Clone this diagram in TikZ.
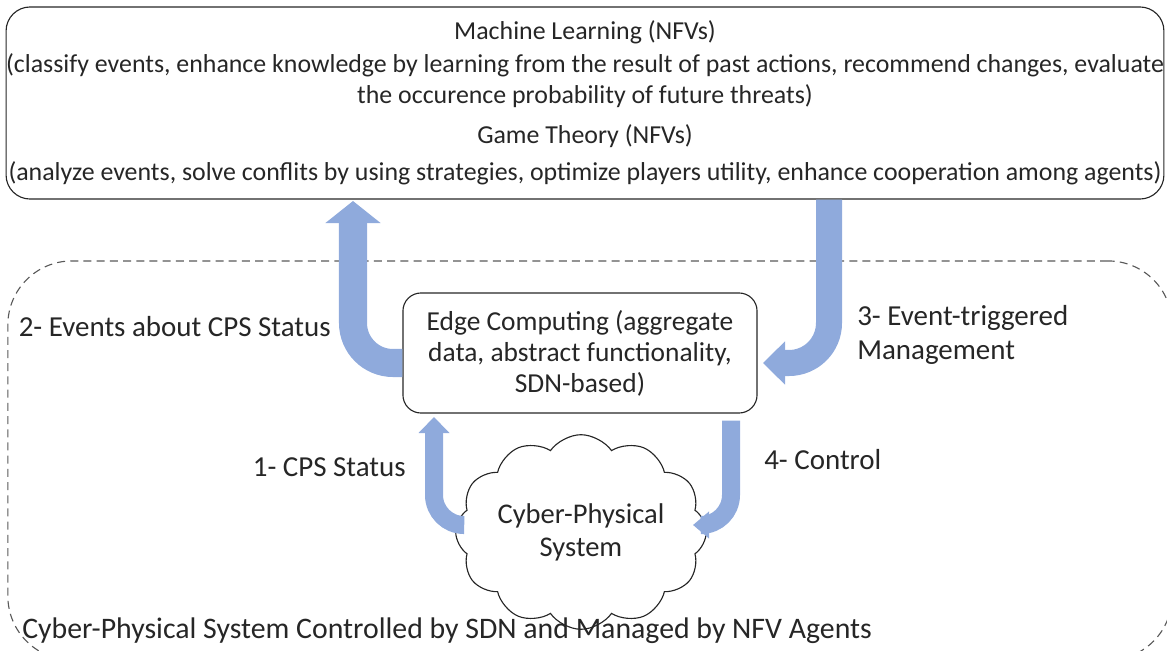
\documentclass[tikz,border=0pt]{standalone}
\usepackage{fontspec}
\setmainfont{Carlito}
\usetikzlibrary{shapes.symbols,arrows.meta,positioning}
\definecolor{flowblue}{HTML}{8FAADC}
\definecolor{inkgray}{HTML}{262626}
\definecolor{dashgray}{HTML}{595959}

\begin{document}
\begin{tikzpicture}[
    x=0.025cm, y=-0.025cm,
    font=\fontsize{18.4}{22}\selectfont, text=inkgray,
    mainbox/.style={rectangle, draw=inkgray, thick, rounded corners=0.6cm, align=center, inner sep=0pt},
    edgebox/.style={rectangle, draw=inkgray, thick, rounded corners=0.45cm, align=center, inner sep=0pt, font=\fontsize{19.5}{22}\selectfont},
    areabox/.style={rectangle, draw=dashgray, thick, dash pattern=on 0.2cm off 0.13cm, rounded corners=1.6cm},
    cps/.style={cloud, cloud puffs=12, cloud puff arc=110, aspect=1.4, draw=inkgray, thick, align=center, inner sep=0pt, font=\fontsize{20.3}{23.5}\selectfont},
    lbl/.style={inner sep=0pt, align=left, font=\fontsize{20.6}{24}\selectfont},
    bigflow/.style={draw=flowblue, line width=0.7cm, rounded corners=1cm},
    smallflow/.style={draw=flowblue, line width=0.45cm, rounded corners=0.75cm},
]
    \useasboundingbox (0,0) rectangle (1167,651);

    % Dashed area round the system
    \node[areabox, minimum width=29.1cm, minimum height=9.975cm] (area) at (590,460.5) {};

    % Upper box with the NFVs
    \node[mainbox, minimum width=28.9cm, minimum height=4.8cm] (nfv) at (585,103) {%
        Machine Learning (NFVs)\\[1pt]
        (classify events, enhance knowledge by learning from the result of past actions, recommend changes, evaluate\\
        the occurence probability of future threats)\\[7pt]
        Game Theory (NFVs)\\[4pt]
        (analyze events, solve conflits by using strategies, optimize players utility, enhance cooperation among agents)};

    % Edge computing and the system
    \node[edgebox, minimum width=8.85cm, minimum height=3cm] (edge) at (580,353) {Edge Computing (aggregate\\data, abstract functionality,\\SDN-based)};
    \node[cps, minimum width=5.75cm, minimum height=3.95cm] (sys) at (581,532) {Cyber-Physical\\System};

    % Bends of the flows
    \coordinate (up2) at (353,201);
    \coordinate (in3) at (763,363);
    \coordinate (up1) at (434,417);
    \coordinate (in4) at (693,525);

    % Flows
    \draw[bigflow, -{Triangle[width=1.35cm, length=0.55cm]}] (edge.west |- 0,363) -| (up2);
    \draw[bigflow, line width=0.65cm, -{Triangle[width=1.05cm, length=0.55cm]}] (nfv.south -| 829,0) |- (in3);
    \draw[smallflow, -{Triangle[width=0.75cm, length=0.4cm]}] (463,525) -| (up1);
    \draw[smallflow, -{Triangle[width=0.65cm, length=0.4cm]}] (edge.south -| 731,0) ++(0,7) |- (in4);

    % Labels
    \node[lbl, anchor=east] (l2) at (331,327) {2- Events about CPS Status};
    \node[lbl, anchor=west] (l3) at (857,335) {3- Event-triggered\\Management};
    \node[lbl, anchor=east] (l1) at (406,467) {1- CPS Status};
    \node[lbl, anchor=west] (l4) at (764,460) {4- Control};
    \node[lbl, anchor=west, font=\fontsize{21.2}{24}\selectfont] (larea) at (22,631) {Cyber-Physical System Controlled by SDN and Managed by NFV Agents};
\end{tikzpicture}
\end{document}
